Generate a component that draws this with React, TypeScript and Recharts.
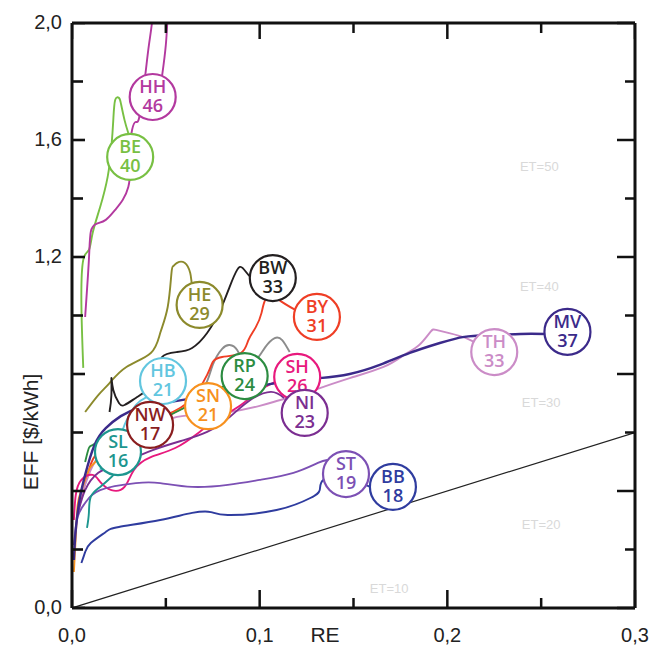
import { ComposedChart, Line, Scatter, XAxis, YAxis } from "recharts";

// RE (x) vs EFF (y) paths per Bundesland
const beLine = [[0.006,0.821],[0.005,1.043],[0.006,1.19],[0.009,1.224],[0.011,1.282],[0.015,1.371],[0.019,1.474],[0.021,1.576],[0.022,1.668],[0.023,1.737],[0.025,1.744],[0.026,1.727],[0.028,1.668],[0.03,1.624]];
const hhLine = [[0.007,0.995],[0.009,1.19],[0.01,1.286],[0.013,1.313],[0.018,1.327],[0.023,1.361],[0.027,1.395],[0.03,1.439],[0.031,1.498],[0.031,1.566],[0.032,1.634],[0.034,1.662],[0.036,1.682],[0.039,1.819],[0.041,1.925],[0.043,2.027],[0.044,2.079],[0.05,2.079],[0.051,2.027],[0.05,1.925],[0.048,1.819]];
const heLine = [[0.007,0.67],[0.014,0.728],[0.02,0.769],[0.029,0.824],[0.042,0.872],[0.047,0.94],[0.051,1.029],[0.053,1.145],[0.054,1.169],[0.056,1.18],[0.06,1.18],[0.063,1.145],[0.064,1.105],[0.067,1.053]];
const bwLine = [[0.02,0.67],[0.021,0.728],[0.021,0.786],[0.022,0.745],[0.025,0.701],[0.028,0.694],[0.034,0.718],[0.04,0.745],[0.046,0.797],[0.048,0.858],[0.056,0.875],[0.064,0.889],[0.072,0.94],[0.079,1.019],[0.084,1.098],[0.088,1.156],[0.091,1.162],[0.095,1.132],[0.099,1.125]];
const byLine = [[0.004,0.352],[0.009,0.472],[0.015,0.54],[0.031,0.609],[0.05,0.66],[0.063,0.711],[0.072,0.797],[0.075,0.841],[0.08,0.858],[0.09,0.872],[0.094,0.916],[0.098,0.961],[0.101,1.009],[0.103,1.053],[0.107,1.067],[0.111,1.05],[0.119,1.019]];
const shLine = [[0.001,0.301],[0.002,0.386],[0.005,0.438],[0.011,0.455],[0.015,0.431],[0.021,0.403],[0.028,0.414],[0.033,0.472],[0.042,0.516],[0.055,0.547],[0.068,0.602],[0.077,0.643],[0.09,0.694],[0.1,0.745],[0.111,0.78]];
const rpLine = [[0.007,0.499],[0.009,0.547],[0.011,0.557],[0.014,0.564],[0.015,0.54],[0.026,0.574],[0.047,0.643],[0.068,0.711],[0.082,0.762],[0.092,0.793]];
const greyLine = [[0.063,0.711],[0.071,0.762],[0.075,0.831],[0.08,0.886],[0.084,0.899],[0.088,0.882],[0.092,0.841],[0.098,0.848],[0.103,0.892],[0.108,0.923],[0.112,0.916],[0.116,0.875]];
const mvLine = [[0.001,0.164],[0.002,0.267],[0.004,0.369],[0.007,0.455],[0.012,0.557],[0.018,0.615],[0.026,0.656],[0.036,0.684],[0.052,0.704],[0.068,0.721],[0.084,0.739],[0.1,0.759],[0.116,0.776],[0.132,0.786],[0.148,0.8],[0.164,0.831],[0.18,0.872],[0.196,0.906],[0.209,0.927],[0.223,0.933],[0.239,0.937],[0.252,0.937]];
const thLine = [[0.004,0.369],[0.01,0.472],[0.015,0.523],[0.026,0.574],[0.042,0.609],[0.054,0.65],[0.068,0.66],[0.084,0.67],[0.1,0.691],[0.111,0.711],[0.121,0.728],[0.134,0.756],[0.148,0.786],[0.166,0.824],[0.177,0.865],[0.185,0.899],[0.191,0.944],[0.194,0.951],[0.201,0.94],[0.21,0.923],[0.217,0.899]];
const niLine = [[0.003,0.318],[0.007,0.403],[0.014,0.462],[0.023,0.489],[0.034,0.516],[0.043,0.54],[0.058,0.571],[0.072,0.602],[0.084,0.653],[0.095,0.711],[0.106,0.739],[0.113,0.718]];
const stLine = [[0.001,0.215],[0.003,0.311],[0.007,0.359],[0.015,0.403],[0.034,0.427],[0.047,0.427],[0.064,0.414],[0.083,0.421],[0.1,0.438],[0.118,0.462],[0.131,0.496],[0.136,0.506]];
const bbLine = [[0.005,0.154],[0.007,0.191],[0.01,0.222],[0.018,0.26],[0.025,0.277],[0.047,0.301],[0.064,0.325],[0.074,0.328],[0.083,0.318],[0.109,0.335],[0.127,0.376],[0.132,0.403],[0.134,0.438],[0.145,0.444],[0.159,0.414]];
const slLine = [[0.008,0.274],[0.009,0.325],[0.01,0.38],[0.015,0.414],[0.021,0.448],[0.025,0.482],[0.025,0.533]];
const hbLine = [[0.015,0.472],[0.019,0.523],[0.025,0.574],[0.028,0.626],[0.034,0.694],[0.039,0.718],[0.044,0.739],[0.048,0.776]];
const nwLine = [[0.026,0.557],[0.034,0.592],[0.042,0.626]];
const snLine = [[0.001,0.123],[0.002,0.243],[0.003,0.352],[0.005,0.403],[0.009,0.472],[0.012,0.496],[0.018,0.54],[0.026,0.574],[0.042,0.626],[0.055,0.67],[0.063,0.691],[0.072,0.691]];
const diagonal = [[0, 0], [0.3, 0.6]];

// label badges: state code, share, end point
const badges = [
  { code: "HH", num: 46, x: 0.043, y: 1.747 },
  { code: "BE", num: 40, x: 0.031, y: 1.542 },
  { code: "HE", num: 29, x: 0.068, y: 1.036 },
  { code: "BW", num: 33, x: 0.107, y: 1.128 },
  { code: "BY", num: 31, x: 0.1305, y: 0.995 },
  { code: "TH", num: 33, x: 0.225, y: 0.875 },
  { code: "MV", num: 37, x: 0.264, y: 0.944 },
  { code: "SL", num: 16, x: 0.0245, y: 0.533 },
  { code: "HB", num: 21, x: 0.0485, y: 0.776 },
  { code: "NW", num: 17, x: 0.0416, y: 0.626 },
  { code: "SN", num: 21, x: 0.0725, y: 0.69 },
  { code: "RP", num: 24, x: 0.092, y: 0.793 },
  { code: "SH", num: 26, x: 0.12, y: 0.79 },
  { code: "NI", num: 23, x: 0.124, y: 0.667 },
  { code: "ST", num: 19, x: 0.146, y: 0.458 },
  { code: "BB", num: 18, x: 0.171, y: 0.414 },
];

const etLabels = [
  { text: "ET=50", x: 0.249, y: 1.508 },
  { text: "ET=40", x: 0.249, y: 1.098 },
  { text: "ET=30", x: 0.25, y: 0.701 },
  { text: "ET=20", x: 0.25, y: 0.284 },
  { text: "ET=10", x: 0.169, y: 0.068 },
];

const xTicks = [0, 0.05, 0.1, 0.15, 0.2, 0.25, 0.3];
const yTicks = [0, 0.2, 0.4, 0.6, 0.8, 1, 1.2, 1.4, 1.6, 1.8, 2];
const yLabelled = [0, 1.2, 1.6, 2];

const colors: Record<string, string> = {
  HH: "#b3399f", BE: "#78c043", HE: "#8c8a2c", BW: "#231f20", BY: "#ef3e25",
  MV: "#3b2a8a", TH: "#cb8cc7", HB: "#62c6df", RP: "#2c8c41", SH: "#e8197d",
  NW: "#8a1e1f", SN: "#f7911e", NI: "#7b2e91", SL: "#1d968f", ST: "#7c50b4",
  BB: "#2f3c9f", GR: "#8c8c8c",
};

const series: [string, number[][]][] = [
  ["BE", beLine], ["HH", hhLine], ["HE", heLine], ["GR", greyLine], ["BY", byLine],
  ["BW", bwLine], ["TH", thLine], ["SN", snLine], ["SH", shLine], ["BB", bbLine],
  ["ST", stLine], ["NI", niLine], ["SL", slLine], ["HB", hbLine], ["NW", nwLine],
  ["RP", rpLine], ["MV", mvLine],
];

const pts = (a: number[][]) => a.map(([x, y]) => ({ x, y }));
const near = (v: number, list: number[]) => list.some((t) => Math.abs(t - v) < 1e-6);
const fmt = (v: number) => v.toFixed(1).replace(".", ",");
const axisFont = "'Liberation Sans', Arial, sans-serif";
const majorX = [0, 0.1, 0.2, 0.3];
const majorY = [0, 0.4, 0.8, 1.2, 1.6, 2];

// tick marks on the left and top frame, placed through the chart's own scales
const leftMarks = yTicks.map((v) => ({ x: 0, y: v }));
const topMarks = xTicks.map((v) => ({ x: v, y: 2 }));

function BottomTick({ x, y, payload }: any) {
  const major = near(payload.value, majorX);
  return (
    <g>
      <line x1={x} y1={y} x2={x} y2={y - (major ? 18 : 10)} stroke="#111" strokeWidth={2.5} />
      {major && (
        <text x={x} y={y + 34} textAnchor="middle" fontSize={20} fontFamily={axisFont} fill="#222">
          {fmt(payload.value)}
        </text>
      )}
    </g>
  );
}

function LeftTick({ x, y, payload }: any) {
  if (!near(payload.value, yLabelled)) return null;
  return (
    <text x={x - 10} y={y + 6} textAnchor="end" fontSize={20} fontFamily={axisFont} fill="#222">
      {fmt(payload.value)}
    </text>
  );
}

function RightTick({ x, y, payload }: any) {
  const major = near(payload.value, majorY);
  return <line x1={x} y1={y} x2={x - (major ? 18 : 10)} y2={y} stroke="#111" strokeWidth={2.5} />;
}

function LeftMark({ cx, cy, payload }: any) {
  const major = near(payload.y, majorY);
  return <line x1={cx} y1={cy} x2={cx + (major ? 13 : 11)} y2={cy} stroke="#111" strokeWidth={2.6} />;
}

function TopMark({ cx, cy, payload }: any) {
  const major = near(payload.x, majorX);
  return <line x1={cx} y1={cy} x2={cx} y2={cy + (major ? 16 : 10)} stroke="#111" strokeWidth={2.5} />;
}

function YTitle({ viewBox }: any) {
  const cx = viewBox.x + 30;
  const cy = viewBox.y + 409;
  return (
    <text x={cx} y={cy} transform={`rotate(-90, ${cx}, ${cy})`} textAnchor="middle"
      dominantBaseline="central" fontSize={21} fontFamily={axisFont} fill="#222">
      EFF [$/kWh]
    </text>
  );
}

function XTitle({ viewBox }: any) {
  return (
    <text x={viewBox.x + 253} y={viewBox.y + 34} textAnchor="middle" fontSize={21}
      fontFamily={axisFont} fill="#222">
      RE
    </text>
  );
}

function Badge({ cx, cy, payload }: any) {
  const c = colors[payload.code];
  const font = "'Open Sans', sans-serif";
  return (
    <g>
      <circle cx={cx} cy={cy} r={23} fill="#fff" stroke={c} strokeWidth={2.2} />
      <text x={cx} y={cy - 4} textAnchor="middle" fontSize={18} fontWeight={600} fontFamily={font} fill={c}>
        {payload.code}
      </text>
      <text x={cx} y={cy + 15} textAnchor="middle" fontSize={18} fontWeight={600} fontFamily={font} fill={c}>
        {payload.num}
      </text>
    </g>
  );
}

function EtText({ cx, cy, payload }: any) {
  return (
    <text x={cx} y={cy} textAnchor="middle" dominantBaseline="central" fontSize={13}
      fontFamily={axisFont} fill="#d9d9d9">
      {payload.text}
    </text>
  );
}

export default function App() {
  return (
    <div style={{ width: 657, height: 655, background: "#fff" }}>
      <style>{`body{margin:0}`}</style>
      <ComposedChart width={657} height={655} margin={{ top: 22, right: 21, bottom: 0, left: 0 }}>
        <XAxis dataKey="x" type="number" domain={[0, 0.3]} allowDataOverflow ticks={xTicks}
          interval={0} height={47} tickSize={0} tickMargin={0} tick={<BottomTick />}
          axisLine={{ stroke: "#111", strokeWidth: 3 }} label={<XTitle />} />
        <XAxis xAxisId="top" orientation="top" dataKey="x" type="number" domain={[0, 0.3]}
          allowDataOverflow ticks={xTicks} interval={0} height={1} tickSize={0} tickMargin={0}
          tick={false} axisLine={{ stroke: "#111", strokeWidth: 3 }} />
        <YAxis dataKey="y" type="number" domain={[0, 2]} allowDataOverflow ticks={yTicks}
          interval={0} width={72} tickSize={0} tickMargin={0} tick={<LeftTick />}
          axisLine={{ stroke: "#111", strokeWidth: 3 }} label={<YTitle />} />
        <YAxis yAxisId="right" orientation="right" dataKey="y" type="number" domain={[0, 2]}
          allowDataOverflow ticks={yTicks} interval={0} width={1} tickSize={0} tickMargin={0}
          tick={<RightTick />} axisLine={{ stroke: "#111", strokeWidth: 3 }} />
        <Scatter data={etLabels} dataKey="y" shape={<EtText />} isAnimationActive={false} />
        <Line data={pts(diagonal)} dataKey="y" type="linear" stroke="#222" strokeWidth={1.2}
          dot={false} isAnimationActive={false} />
        {series.map(([code, d]) => (
          <Line key={code} data={pts(d)} dataKey="y" type="natural" stroke={colors[code]}
            strokeWidth={code === "MV" ? 2.4 : 1.9} dot={false} isAnimationActive={false} />
        ))}
        <Scatter data={badges} dataKey="y" shape={<Badge />} isAnimationActive={false} />
        <Scatter data={leftMarks} dataKey="y" shape={<LeftMark />} isAnimationActive={false} />
        <Scatter data={topMarks} dataKey="y" shape={<TopMark />} isAnimationActive={false} />
      </ComposedChart>
    </div>
  );
}
